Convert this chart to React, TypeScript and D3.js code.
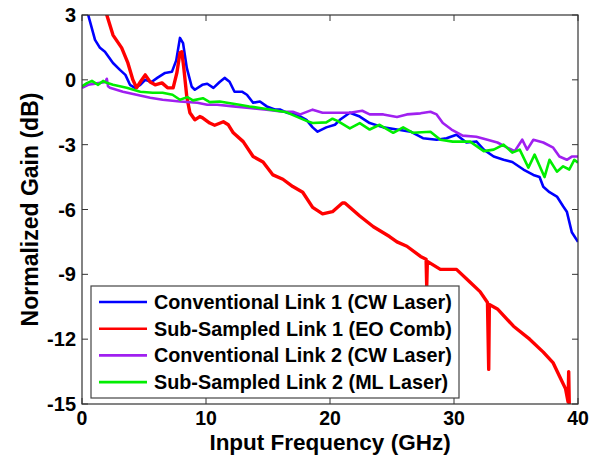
import React from "react";
import * as d3 from "d3";

const xTicks = [0, 10, 20, 30, 40];
const yTicks = [3, 0, -3, -6, -9, -12, -15];

const seriesNames = [
  "Conventional Link 1 (CW Laser)",
  "Sub-Sampled Link 1 (EO Comb)",
  "Conventional Link 2 (CW Laser)",
  "Sub-Sampled Link 2 (ML Laser)",
];
const seriesColors = ["#0000ff", "#ff0000", "#a020f0", "#00ee00"];

const conv1: [number, number][] = [[0,3.6],[0.5,3.0],[1.05,1.85],[1.45,1.48],[1.85,1.3],[2.5,0.78],[3.06,0.46],[3.5,0.23],[3.87,-0.23],[4.27,-0.37],[4.7,-0.23],[5.1,0],[5.6,-0.1],[6.1,0.1],[6.7,0.32],[7.25,0.37],[7.6,0.9],[7.9,1.94],[8.15,1.7],[8.45,0.55],[8.85,-0.32],[9.1,-0.46],[9.7,-0.23],[10.1,-0.18],[10.6,-0.37],[11.1,-0.1],[11.5,0.09],[11.9,-0.09],[12.3,-0.55],[12.9,-0.55],[13.3,-0.69],[13.8,-1.06],[14.35,-1.0],[14.9,-1.23],[15.6,-1.38],[16,-1.38],[16.5,-1.52],[17.3,-1.6],[18.1,-1.85],[18.6,-2.2],[19,-2.4],[19.7,-2.2],[20.4,-2.08],[20.8,-1.85],[21.6,-1.52],[22.4,-1.7],[23.2,-2.0],[24.3,-2.2],[25.4,-2.3],[26.5,-2.4],[27.5,-2.7],[28.6,-2.77],[29.4,-2.7],[30.2,-2.54],[31,-2.9],[31.8,-2.85],[32.4,-3.23],[33.2,-3.55],[34,-3.7],[34.7,-3.8],[35.6,-4.15],[36.4,-4.4],[36.9,-4.5],[37.2,-4.95],[37.7,-5.2],[38.3,-5.4],[38.8,-5.85],[39.1,-6.1],[39.5,-7.05],[40,-7.5]];

const sub1: [number, number][] = [[1.6,4],[2.0,3.0],[2.5,2.07],[3.2,1.48],[3.7,0.78],[4.1,0],[4.4,-0.37],[4.7,-0.1],[5.1,0.23],[5.5,-0.1],[5.9,-0.23],[6.45,-0.14],[6.9,-0.37],[7.35,-0.37],[7.65,0.32],[7.9,1.25],[8.05,1.3],[8.2,0.6],[8.45,-0.78],[8.7,-1.52],[9.1,-1.85],[9.5,-1.7],[9.7,-1.75],[10.3,-2.0],[10.7,-2.1],[11.4,-1.94],[11.8,-2.08],[12.2,-2.45],[13,-2.86],[13.8,-3.55],[14.6,-3.8],[15.4,-4.4],[16.2,-4.6],[17,-4.94],[17.8,-5.2],[18.6,-5.9],[19.4,-6.2],[20.2,-6.1],[21,-5.7],[21.2,-5.7],[22.4,-6.3],[23.5,-6.8],[24.8,-7.25],[25.4,-7.5],[26.2,-7.7],[27.3,-8.17],[27.75,-8.3],[27.8,-9.55],[27.85,-8.4],[28.9,-8.77],[30.2,-8.77],[31.3,-9.37],[32.1,-9.8],[32.7,-10.3],[32.8,-13.4],[32.85,-10.4],[33.5,-10.6],[34.8,-11.4],[36.1,-12],[37.2,-12.6],[38,-13.1],[38.5,-13.7],[39,-14.3],[39.2,-14.9],[39.25,-13.5],[39.3,-15.2],[39.5,-15.5]];

const conv2: [number, number][] = [[0,-0.37],[0.5,-0.23],[1.45,-0.14],[1.9,-0.1],[2.0,0.05],[2.1,-0.3],[2.25,-0.37],[3.3,-0.55],[4.4,-0.69],[5.5,-0.83],[6.5,-0.92],[7.9,-1.0],[9.3,-1.06],[10.1,-1.15],[10.9,-1.15],[12.2,-1.23],[13.5,-1.3],[14.9,-1.38],[16.2,-1.48],[17,-1.48],[17.6,-1.6],[18.6,-1.38],[19.4,-1.52],[20.2,-1.52],[21,-1.52],[21.6,-1.52],[22.6,-1.43],[23.2,-1.6],[24.3,-1.6],[25.4,-1.72],[26.2,-1.6],[27.3,-1.55],[28.1,-1.48],[28.6,-1.6],[29.1,-2.0],[29.8,-2.3],[30.7,-2.58],[31.8,-2.63],[32.7,-2.77],[33.5,-2.9],[34.3,-3.14],[34.9,-3.3],[35.5,-2.77],[35.9,-3.23],[36.4,-2.77],[37.2,-2.9],[38,-3.14],[38.5,-3.55],[39.1,-3.7],[39.5,-3.55],[40,-3.55]];

const sub2: [number, number][] = [[0,-0.3],[0.4,-0.15],[0.8,-0.05],[1.3,-0.23],[1.7,-0.05],[2.0,-0.14],[2.5,-0.23],[3.6,-0.37],[4.7,-0.55],[5.7,-0.6],[6.5,-0.6],[7.3,-0.69],[7.9,-0.92],[8.5,-0.8],[8.95,-0.95],[9.75,-0.85],[10.3,-1.03],[11.1,-1.0],[11.7,-1.06],[12.7,-1.15],[13.5,-1.23],[14.35,-1.3],[15.4,-1.4],[16.5,-1.5],[17.3,-1.7],[18.1,-1.9],[18.6,-2.0],[19.7,-1.97],[20.2,-1.8],[20.6,-1.9],[21.6,-2.25],[22.4,-2.0],[23.2,-2.3],[24,-2.08],[25.1,-2.45],[25.9,-2.2],[26.7,-2.45],[28.1,-2.4],[28.9,-2.77],[29.9,-2.86],[31.3,-2.86],[32.4,-3.3],[33.2,-3.23],[34,-3.0],[34.7,-3.37],[35.3,-3.23],[36,-4.06],[36.5,-3.46],[37.3,-4.5],[37.7,-3.7],[38.3,-4.25],[38.8,-4.0],[39.3,-4.15],[39.7,-3.7],[40,-3.83]];

const seriesData = [conv1, sub1, conv2, sub2];

const W = 600;
const H = 459;
const L = 82, R = 578, T = 15, B = 404;

export default function App() {
  const x = d3.scaleLinear().domain([0, 40]).range([L, R]);
  const y = d3.scaleLinear().domain([-15, 3]).range([B, T]);
  const line = d3.line<[number, number]>().x((d) => x(d[0])).y((d) => y(d[1]));
  const font = "'Liberation Sans', Arial, sans-serif";
  const tick = 6;
  const legX = 91, legY = 286, legW = 368, legH = 112;
  const rowH = 26.7;
  return (
    <svg width={W} height={H} style={{ position: "absolute", left: 0, top: 0, background: "#fff" }} fontFamily={font}>
      <defs>
        <clipPath id="plotclip">
          <rect x={L} y={T} width={R - L} height={B - T} />
        </clipPath>
      </defs>
      <rect x={0} y={0} width={W} height={H} fill="#fff" />
      <g clipPath="url(#plotclip)" fill="none" strokeLinejoin="round">
        {seriesData.map((d, i) => (
          <path key={i} d={line(d) || ""} stroke={seriesColors[i]} strokeWidth={i === 1 ? 3.4 : 2.6} />
        ))}
      </g>
      <rect x={L} y={T} width={R - L} height={B - T} fill="none" stroke="#333" strokeWidth={1.2} />
      {xTicks.map((t) => (
        <g key={"x" + t}>
          <line x1={x(t)} x2={x(t)} y1={B} y2={B - tick} stroke="#333" />
          <line x1={x(t)} x2={x(t)} y1={T} y2={T + tick} stroke="#333" />
          <text x={x(t)} y={B + 21} textAnchor="middle" fontSize={19.5} fontWeight="bold">{t}</text>
        </g>
      ))}
      {yTicks.map((t) => (
        <g key={"y" + t}>
          <line x1={L} x2={L + tick} y1={y(t)} y2={y(t)} stroke="#333" />
          <line x1={R} x2={R - tick} y1={y(t)} y2={y(t)} stroke="#333" />
          <text x={L - 6} y={y(t) + 7} textAnchor="end" fontSize={20} fontWeight="bold">{t}</text>
        </g>
      ))}
      <text x={(L + R) / 2} y={450} textAnchor="middle" fontSize={22.5} fontWeight="bold">Input Frequency (GHz)</text>
      <text transform={`translate(38, ${(T + B) / 2}) rotate(-90)`} textAnchor="middle" fontSize={23} fontWeight="bold">Normalized Gain (dB)</text>
      <g>
        <rect x={legX} y={legY} width={legW} height={legH} fill="#fff" stroke="#444" strokeWidth={1.2} />
        {seriesNames.map((n, i) => {
          const cy = legY + 16 + i * rowH;
          return (
            <g key={n}>
              <line x1={legX + 8} x2={legX + 56} y1={cy} y2={cy} stroke={seriesColors[i]} strokeWidth={2.6} />
              <text x={legX + 63} y={cy + 7} fontSize={19.8} fontWeight="bold">{n}</text>
            </g>
          );
        })}
      </g>
    </svg>
  );
}
